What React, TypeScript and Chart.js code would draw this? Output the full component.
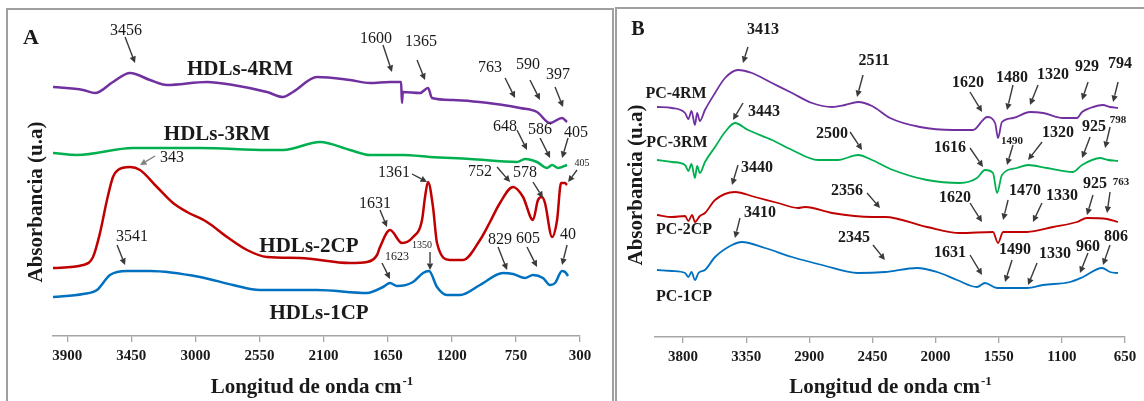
import React, { useEffect, useRef } from "react";
import { Chart, registerables } from "chart.js";
Chart.register(...registerables);

const SERIF = "'Liberation Serif', 'Times New Roman', Times, serif";

// ---------- Panel A data (wavenumber cm-1, absorbance a.u.) ----------
const A_TICKS = [3900, 3450, 3000, 2550, 2100, 1650, 1200, 750, 300];

const A_4RM_X = [4000, 3789, 3705, 3579, 3459, 3319, 3200, 2919, 2736, 2498, 2385, 2315, 2146, 1915, 1774, 1634, 1556, 1550, 1544, 1423, 1367, 1339, 1192, 841, 721, 602, 511, 426, 391];
const A_4RM_Y = [249, 246, 243, 254, 263, 256, 251, 254, 251, 244, 239, 244, 259, 256, 253, 254, 254, 233, 244, 243, 248, 238, 236, 231, 228, 224, 213, 218, 214];

const A_3RM_X = [4000, 3831, 3438, 2968, 2498, 2385, 2125, 1915, 1774, 1543, 1353, 1072, 742, 686, 602, 532, 496, 454, 391];
const A_3RM_Y = [183, 181, 188, 188, 186, 186, 194, 186, 181, 181, 179, 177, 174, 177, 174, 168, 171, 168, 171];

const A_2CP_X = [4000, 3789, 3719, 3670, 3621, 3579, 3544, 3459, 3389, 3270, 3157, 3059, 2919, 2778, 2638, 2498, 2266, 1915, 1795, 1725, 1704, 1634, 1550, 1472, 1409, 1388, 1367, 1332, 1304, 1213, 1121, 1002, 932, 862, 770, 700, 630, 595, 567, 546, 496, 461, 433, 405, 391];
const A_2CP_Y = [68, 71, 79, 103, 136, 159, 166, 169, 166, 149, 133, 124, 114, 99, 86, 79, 78, 73, 74, 81, 89, 106, 93, 99, 116, 139, 154, 129, 93, 76, 76, 96, 114, 133, 149, 139, 116, 136, 139, 133, 99, 116, 153, 153, 151];

const A_1CP_X = [4000, 3789, 3691, 3600, 3480, 3319, 2968, 2736, 2547, 2146, 1795, 1683, 1634, 1585, 1472, 1402, 1360, 1304, 1234, 1142, 1002, 841, 770, 686, 630, 560, 511, 475, 426, 405, 384];
const A_1CP_Y = [39, 42, 46, 61, 65, 65, 59, 51, 46, 46, 43, 49, 53, 50, 54, 63, 65, 49, 41, 41, 51, 63, 62, 58, 61, 58, 51, 53, 65, 64, 60];

const A_NAMES = ["HDLs-4RM", "HDLs-3RM", "HDLs-2CP", "HDLs-1CP"];
const A_NAME_WN = [2687, 2849, 2203, 2132];
const A_NAME_VAL = [268, 203, 91, 24];

const A_ANN_LABELS = ["3456", "1600", "1365", "763", "590", "397", "648", "586", "405", "405", "343", "1361", "752", "578", "1631", "1623", "1350", "3541", "829", "605", "40"];
const A_ANN_WN = [3424, 1620, 1388, 756, 581, 419, 672, 510, 426, 384, 3389, 1374, 791, 560, 1655, 1634, 1353, 3494, 812, 602, 426];
const A_ANN_VAL = [273, 264, 256, 238, 236, 229, 186, 178, 178, 154, 171, 154, 154, 138, 109, 57, 66, 71, 66, 69, 71];

// ---------- Panel B data ----------
const B_TICKS = [3800, 3350, 2900, 2450, 2000, 1550, 1100, 650];

const B_4RM_X = [3986, 3879, 3786, 3762, 3740, 3715, 3700, 3680, 3644, 3572, 3501, 3408, 3309, 3166, 3023, 2881, 2738, 2646, 2553, 2453, 2325, 2111, 1876, 1733, 1662, 1634, 1576, 1555, 1527, 1448, 1327, 1234, 1092, 992, 956, 899, 807, 757, 700];
const B_4RM_Y = [230, 229, 224, 218, 226, 212, 224, 216, 227, 244, 259, 267, 264, 254, 244, 234, 230, 232, 235, 231, 219, 210, 207, 207, 217, 220, 214, 199, 215, 219, 225, 224, 219, 219, 225, 229, 232, 230, 229];

const B_3RM_X = [3986, 3879, 3786, 3762, 3740, 3715, 3700, 3680, 3644, 3572, 3501, 3430, 3337, 3166, 3023, 2838, 2696, 2553, 2453, 2304, 2061, 1826, 1705, 1648, 1591, 1562, 1527, 1420, 1341, 1206, 1021, 956, 828, 771, 700];
const B_3RM_Y = [177, 175, 172, 166, 173, 159, 171, 164, 175, 190, 205, 214, 207, 197, 187, 177, 177, 182, 177, 167, 157, 154, 159, 167, 164, 144, 162, 169, 172, 169, 165, 172, 179, 177, 176];

const B_2CP_X = [3986, 3879, 3786, 3762, 3736, 3715, 3680, 3644, 3572, 3430, 3287, 3123, 2981, 2931, 2738, 2453, 2361, 2061, 1826, 1591, 1555, 1519, 1348, 1163, 992, 921, 778, 700];
const B_2CP_Y = [122, 120, 121, 116, 122, 115, 121, 124, 137, 145, 140, 134, 129, 130, 124, 120, 120, 110, 104, 105, 94, 105, 105, 110, 115, 119, 118, 115];

const B_1CP_X = [3986, 3879, 3786, 3762, 3740, 3715, 3690, 3644, 3572, 3451, 3380, 3216, 3023, 2810, 2553, 2361, 2132, 1990, 1847, 1705, 1648, 1562, 1470, 1348, 1234, 1042, 949, 814, 757, 700];
const B_1CP_Y = [67, 66, 64, 60, 65, 57, 64, 67, 80, 92, 95, 89, 80, 72, 64, 65, 69, 65, 57, 50, 54, 49, 49, 49, 52, 55, 60, 69, 65, 64];

const B_NAMES = ["PC-4RM", "PC-3RM", "PC-2CP", "PC-1CP"];
const B_NAME_WN = [3850, 3843, 3793, 3793];
const B_NAME_VAL = [244, 195, 108, 41];

const B_ANN_LABELS = ["3413", "2511", "3443", "2500", "3440", "2356", "3410", "2345", "1620", "1480", "1320", "929", "794", "1616", "1490", "1320", "925", "798", "1620", "1470", "1330", "925", "763", "1631", "1490", "1330", "960", "806"];
const B_ANN_WN = [3373, 2560, 3444, 2524, 3451, 2396, 3430, 2361, 1669, 1491, 1327, 956, 735, 1662, 1491, 1341, 956, 792, 1669, 1519, 1306, 921, 778, 1669, 1505, 1341, 971, 807];
const B_ANN_VAL = [274, 240, 217, 187, 152, 129, 99, 77, 225, 227, 232, 237, 235, 170, 172, 177, 179, 189, 115, 117, 115, 122, 124, 62, 55, 52, 64, 72];

// ---------- layout / style (pixel offsets of arrow tail & label from arrow tip, font size) ----------
const A_ANN_LAYOUT = [
  [-10, -26, -9, -33, 16], [-9, -27, -16, -34, 16], [-8, -20, -4, -39, 16], [-10, -20, -25, -31, 16],
  [-10, -20, -12, -36, 16], [-8, -20, -5, -33, 16], [-10, -20, -22, -24, 16], [-10, -20, -10, -29, 16],
  [6, -20, 14, -26, 16], [9, -12, 14, -19, 10], [15, -9, 32, -8, 16], [-15, -8, -33, -10, 16],
  [-13, -15, -30, -11, 16], [-10, -16, -18, -26, 16], [-7, -17, -12, -24, 16], [-8, -16, 7, -23, 12],
  [0, -18, -8, -25, 10], [-8, -20, 7, -29, 16], [-9, -23, -7, -31, 16], [-10, -20, -9, -29, 16],
  [5, -20, 6, -31, 16],
];
const B_ANN_LAYOUT = [
  [5, -16, 20, -34, 16], [6, -22, 17, -37, 16], [10, -17, 31, -9, 16], [-12, -18, -30, -17, 16],
  [6, -20, 25, -18, 16], [-13, -15, -33, -18, 16], [5, -20, 25, -26, 16], [-12, -15, -31, -23, 16],
  [-12, -20, -14, -30, 16], [6, -25, 5, -33, 16], [8, -20, 23, -31, 16], [6, -18, 5, -34, 16],
  [5, -20, 7, -39, 16], [-13, -19, -33, -20, 16], [6, -20, 5, -25, 11], [14, -18, 30, -28, 16],
  [8, -21, 12, -32, 16], [5, -21, 13, -29, 11], [-12, -19, -27, -25, 16], [5, -20, 22, -30, 16],
  [9, -19, 29, -27, 16], [6, -20, 8, -32, 16], [3, -21, 14, -32, 11], [-12, -20, -32, -23, 16],
  [7, -22, 10, -33, 16], [9, -22, 27, -32, 16], [8, -20, 8, -27, 16], [7, -20, 13, -29, 16],
];

const COLORS = ["#7030A0", "#00B050", "#C00000", "#0070C0"];

type PanelCfg = {
  ticks: number[];
  min: number;
  max: number;
  ymax: number;
  xs: number[][];
  ys: number[][];
  lineWidth: number;
  names: string[];
  nameWn: number[];
  nameVal: number[];
  nameSize: number;
  annLabels: string[];
  annWn: number[];
  annVal: number[];
  annLayout: number[][];
  annWeight: string;
  pad: { left: number; right: number; top: number };
  xHeight: number;
  letter: string;
  letterPos: [number, number];
  letterSize: number;
  yTitlePos: [number, number];
  xTitleShift: number;
  xTitleOffset: number;
};

function drawArrow(ctx: CanvasRenderingContext2D, x1: number, y1: number, x2: number, y2: number, color: string) {
  ctx.save();
  ctx.strokeStyle = color;
  ctx.fillStyle = color;
  ctx.lineWidth = 1.4;
  const ang = Math.atan2(y2 - y1, x2 - x1);
  const head = 6.5;
  const bx = x2 - head * Math.cos(ang);
  const by = y2 - head * Math.sin(ang);
  ctx.beginPath();
  ctx.moveTo(x1, y1);
  ctx.lineTo(bx, by);
  ctx.stroke();
  ctx.beginPath();
  ctx.moveTo(x2, y2);
  ctx.lineTo(bx + 3.2 * Math.sin(ang), by - 3.2 * Math.cos(ang));
  ctx.lineTo(bx - 3.2 * Math.sin(ang), by + 3.2 * Math.cos(ang));
  ctx.closePath();
  ctx.fill();
  ctx.restore();
}

function makePlugin(cfg: PanelCfg) {
  return {
    id: "overlay",
    afterDraw(chart: any) {
      const ctx: CanvasRenderingContext2D = chart.ctx;
      const xs = chart.scales.x;
      const ys = chart.scales.y;
      const area = chart.chartArea;
      ctx.save();
      cfg.annLabels.forEach((t, i) => {
        const px = xs.getPixelForValue(cfg.annWn[i]);
        const py = ys.getPixelForValue(cfg.annVal[i]);
        const [tdx, tdy, ldx, ldy, size] = cfg.annLayout[i];
        const col = t === "343" ? "#808080" : "#3a3a3a";
        drawArrow(ctx, px + tdx, py + tdy, px, py, col);
        ctx.fillStyle = "#1a1a1a";
        ctx.font = `${cfg.annWeight} ${size}px ${SERIF}`;
        ctx.textAlign = "center";
        ctx.textBaseline = "alphabetic";
        ctx.fillText(t, px + ldx, py + ldy + size * 0.33);
      });
      cfg.names.forEach((n, i) => {
        const px = xs.getPixelForValue(cfg.nameWn[i]);
        const py = ys.getPixelForValue(cfg.nameVal[i]);
        ctx.fillStyle = "#1a1a1a";
        ctx.font = `bold ${cfg.nameSize}px ${SERIF}`;
        ctx.textAlign = "center";
        ctx.textBaseline = "alphabetic";
        ctx.fillText(n, px, py + cfg.nameSize * 0.33);
      });
      ctx.font = `bold ${cfg.letterSize}px ${SERIF}`;
      ctx.textAlign = "center";
      ctx.textBaseline = "alphabetic";
      ctx.fillText(cfg.letter, cfg.letterPos[0], cfg.letterPos[1] + cfg.letterSize * 0.33);
      const main = "Longitud de onda cm";
      const sup = "-1";
      ctx.font = `bold 21px ${SERIF}`;
      const w1 = ctx.measureText(main).width;
      ctx.font = `bold 13px ${SERIF}`;
      const w2 = ctx.measureText(sup).width;
      const cx = (area.left + area.right) / 2 + cfg.xTitleShift;
      const base = area.bottom + cfg.xTitleOffset;
      const sx = cx - (w1 + w2) / 2;
      ctx.textAlign = "left";
      ctx.font = `bold 21px ${SERIF}`;
      ctx.fillText(main, sx, base);
      ctx.font = `bold 13px ${SERIF}`;
      ctx.fillText(sup, sx + w1 + 1, base - 8);
      ctx.translate(cfg.yTitlePos[0], cfg.yTitlePos[1]);
      ctx.rotate(-Math.PI / 2);
      ctx.font = `bold 21px ${SERIF}`;
      ctx.textAlign = "center";
      ctx.textBaseline = "middle";
      ctx.fillText("Absorbancia (u.a)", 0, 0);
      ctx.restore();
    },
  };
}

function PanelChart({ cfg, left, top, width, height }: { cfg: PanelCfg; left: number; top: number; width: number; height: number }) {
  const ref = useRef<HTMLCanvasElement>(null);
  useEffect(() => {
    const canvas = ref.current!;
    const chart = new Chart(canvas, {
      type: "line",
      data: {
        datasets: cfg.xs.map((xarr, si) => ({
          data: xarr.map((x, i) => ({ x, y: cfg.ys[si][i] })),
          borderColor: COLORS[si],
          borderWidth: cfg.lineWidth,
          pointRadius: 0,
          cubicInterpolationMode: "monotone" as const,
          fill: false,
        })),
      },
      options: {
        animation: false,
        responsive: false,
        devicePixelRatio: 1,
        events: [],
        layout: { padding: { left: cfg.pad.left, right: cfg.pad.right, top: cfg.pad.top, bottom: 0 } },
        plugins: { legend: { display: false }, tooltip: { enabled: false } },
        scales: {
          x: {
            type: "linear",
            reverse: true,
            min: cfg.min,
            max: cfg.max,
            afterBuildTicks: (s: any) => {
              s.ticks = cfg.ticks.map((v) => ({ value: v }));
            },
            afterFit: (s: any) => {
              s.height = cfg.xHeight;
            },
            ticks: {
              color: "#1a1a1a",
              font: { family: SERIF, size: 15, weight: "bold" },
              padding: 5,
              maxRotation: 0,
              autoSkip: false,
              callback: (v: any) => String(v),
            },
            grid: { display: true, drawOnChartArea: false, drawTicks: true, tickLength: 6, color: "#a6a6a6", lineWidth: 1.3 },
            border: { display: true, color: "#a6a6a6", width: 1.5 },
          },
          y: { display: false, min: 0, max: cfg.ymax },
        },
      },
      plugins: [makePlugin(cfg)],
    } as any);
    return () => chart.destroy();
  }, []);
  return (
    <canvas
      ref={ref}
      width={width}
      height={height}
      style={{ position: "absolute", left, top, width, height }}
    />
  );
}

const PANEL_A: PanelCfg = {
  ticks: A_TICKS,
  min: 300,
  max: 4000,
  ymax: 322,
  xs: [A_4RM_X, A_3RM_X, A_2CP_X, A_1CP_X],
  ys: [A_4RM_Y, A_3RM_Y, A_2CP_Y, A_1CP_Y],
  lineWidth: 2.5,
  names: A_NAMES,
  nameWn: A_NAME_WN,
  nameVal: A_NAME_VAL,
  nameSize: 21,
  annLabels: A_ANN_LABELS,
  annWn: A_ANN_WN,
  annVal: A_ANN_VAL,
  annLayout: A_ANN_LAYOUT,
  annWeight: "normal",
  pad: { left: 44, right: 30, top: 4 },
  xHeight: 65,
  letter: "A",
  letterPos: [22, 27],
  letterSize: 22,
  yTitlePos: [28, 192],
  xTitleShift: -5,
  xTitleOffset: 57,
};

const PANEL_B: PanelCfg = {
  ticks: B_TICKS,
  min: 650,
  max: 4000,
  ymax: 323,
  xs: [B_4RM_X, B_3RM_X, B_2CP_X, B_1CP_X],
  ys: [B_4RM_Y, B_3RM_Y, B_2CP_Y, B_1CP_Y],
  lineWidth: 1.8,
  names: B_NAMES,
  nameWn: B_NAME_WN,
  nameVal: B_NAME_VAL,
  nameSize: 16,
  annLabels: B_ANN_LABELS,
  annWn: B_ANN_WN,
  annVal: B_ANN_VAL,
  annLayout: B_ANN_LAYOUT,
  annWeight: "bold",
  pad: { left: 37, right: 19, top: 4 },
  xHeight: 64,
  letter: "B",
  letterPos: [20, 18],
  letterSize: 20,
  yTitlePos: [19, 175],
  xTitleShift: 0,
  xTitleOffset: 56,
};

export default function App() {
  return (
    <div style={{ position: "fixed", left: 0, top: 0, width: 1144, height: 401, overflow: "hidden", background: "#fff" }}>
      <div style={{ position: "absolute", left: 6, top: 8, width: 604, height: 500, border: "2px solid #a0a0a0" }} />
      <div style={{ position: "absolute", left: 615, top: 7, width: 600, height: 500, border: "2px solid #a0a0a0" }} />
      <PanelChart cfg={PANEL_A} left={9} top={10} width={601} height={391} />
      <PanelChart cfg={PANEL_B} left={618} top={10} width={526} height={391} />
    </div>
  );
}
